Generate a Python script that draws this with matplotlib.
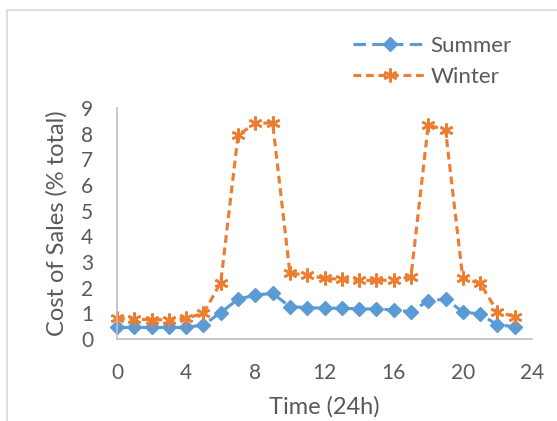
"""Hourly cost of sales, summer vs winter."""

import matplotlib.pyplot as plt
from matplotlib.patches import Rectangle

hours = list(range(24))
summer = [0.45, 0.45, 0.45, 0.45, 0.45, 0.55, 1.03, 1.55, 1.71, 1.78, 1.26, 1.22,
          1.2, 1.2, 1.17, 1.17, 1.13, 1.06, 1.49, 1.55, 1.06, 0.97, 0.55, 0.48]
winter = [0.81, 0.77, 0.75, 0.75, 0.81, 1.0, 2.2, 7.95, 8.4, 8.42, 2.56, 2.5,
          2.36, 2.33, 2.28, 2.28, 2.3, 2.43, 8.34, 8.14, 2.36, 2.17, 1.06, 0.87]
x_ticks = [0, 4, 8, 12, 16, 20, 24]
y_ticks = list(range(10))

plt.rcParams["font.family"] = ["Lato", "DejaVu Sans"]

fig = plt.figure(figsize=(5.57, 4.21), dpi=100)
fig.patches.append(Rectangle((7 / 557, -0.1), 1.2, (411 / 421) + 0.1,
                             transform=fig.transFigure, fill=False,
                             edgecolor="#d9d9d9", linewidth=1.2))
ax = fig.add_axes([117 / 557, 82 / 421, 415 / 557, 231 / 421])

ax.plot(hours, summer, color="#5b9bd5", linewidth=2.25, dashes=(4, 2),
        marker="D", markersize=7.5, label="Summer", clip_on=False)
ax.plot(hours, winter, color="#ed7d31", linewidth=2.25, dashes=(2.5, 1.5),
        marker=(6, 2, 0), markersize=10, markeredgewidth=1.8,
        label="Winter", clip_on=False)

ax.set_xlim(0, 24)
ax.set_ylim(0, 9)
ax.set_xticks(x_ticks)
ax.set_yticks(y_ticks)
ax.tick_params(length=0, labelsize=15, colors="#595959")
ax.tick_params(axis="x", pad=17)
ax.tick_params(axis="y", pad=17)
for side in ["top", "right"]:
    ax.spines[side].set_visible(False)
for side in ["left", "bottom"]:
    ax.spines[side].set_color("#bfbfbf")
    ax.spines[side].set_linewidth(1.2)

ax.set_xlabel("Time (24h)", fontsize=17, color="#595959", labelpad=10)
ax.set_ylabel("Cost of Sales (% total)", fontsize=17, color="#595959", labelpad=10)

ax.legend(loc="upper right", bbox_to_anchor=(1.0, 1.40), frameon=False,
          fontsize=16, handlelength=3.3, labelcolor="#595959",
          handletextpad=0.2, labelspacing=0.5)

fig.savefig("out.png", dpi=100)
